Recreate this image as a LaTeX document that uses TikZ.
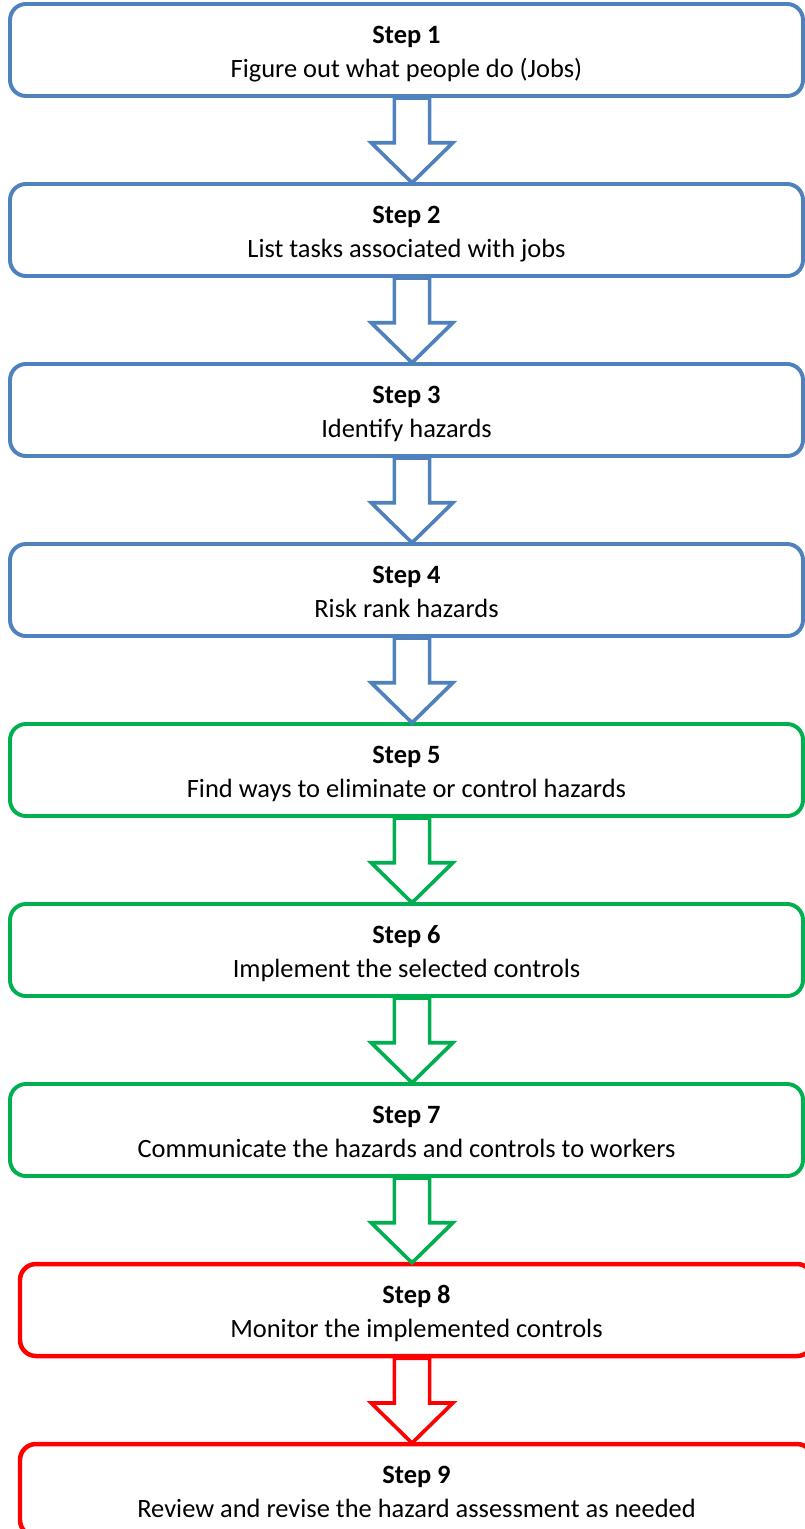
\documentclass[tikz,border=0pt]{standalone}
\usepackage{fontspec}
\setmainfont{Carlito}
\usetikzlibrary{calc}

\definecolor{stepblue}{HTML}{4F81BD}
\definecolor{stepgreen}{HTML}{00B050}
\definecolor{stepred}{HTML}{FF0000}

\begin{document}
\begin{tikzpicture}[
			stepbox/.style={
				draw, line width=2.8pt, rounded corners=0.4cm,
				minimum width=19.825cm, minimum height=2.3cm,
				align=center, text height=39pt, text depth=0pt,
				font=\fontsize{18.8}{23.8}\selectfont
			},
			blue box/.style={stepbox, draw=stepblue},
			green box/.style={stepbox, draw=stepgreen},
			red box/.style={stepbox, draw=stepred, line width=3.2pt},
			fat arrow/.style={line width=2.6pt, fill=white, line join=miter}
			]
			\useasboundingbox (0,0) rectangle (20.125,-38.225);
			\coordinate (ax) at (10.3,0);
			
			% the nine steps
			\node[blue box] (s1) at (10.1625,-1.25) {\textbf{Step 1}\\Figure out what people do (Jobs)};
			\node[blue box] (s2) at (10.1625,-5.75) {\textbf{Step 2}\\List tasks associated with jobs};
			\node[blue box] (s3) at (10.1625,-10.25) {\textbf{Step 3}\\Identify hazards};
			\node[blue box] (s4) at (10.1625,-14.75) {\textbf{Step 4}\\Risk rank hazards};
			\node[green box] (s5) at (10.1625,-19.25) {\textbf{Step 5}\\Find ways to eliminate or control hazards};
			\node[green box] (s6) at (10.1625,-23.75) {\textbf{Step 6}\\Implement the selected controls};
			\node[green box] (s7) at (10.1625,-28.25) {\textbf{Step 7}\\Communicate the hazards and controls to workers};
			\node[red box] (s8) at (10.4125,-32.75) {\textbf{Step 8}\\Monitor the implemented controls};
			\node[red box] (s9) at (10.4125,-37.25) {\textbf{Step 9}\\Review and revise the hazard assessment as needed};
			
			% block arrows between the steps
			\draw[fat arrow, draw=stepblue] (s1.south -| ax) ++(-0.44,0) -- ++(0,-1.12) -- ++(-0.58,0) -- ++(1.02,-1.0) -- ++(1.02,1.0) -- ++(-0.58,0) -- ++(0,1.12) -- cycle;
			\draw[fat arrow, draw=stepblue] (s2.south -| ax) ++(-0.44,0) -- ++(0,-1.12) -- ++(-0.58,0) -- ++(1.02,-1.0) -- ++(1.02,1.0) -- ++(-0.58,0) -- ++(0,1.12) -- cycle;
			\draw[fat arrow, draw=stepblue] (s3.south -| ax) ++(-0.44,0) -- ++(0,-1.12) -- ++(-0.58,0) -- ++(1.02,-1.0) -- ++(1.02,1.0) -- ++(-0.58,0) -- ++(0,1.12) -- cycle;
			\draw[fat arrow, draw=stepblue] (s4.south -| ax) ++(-0.44,0) -- ++(0,-1.12) -- ++(-0.58,0) -- ++(1.02,-1.0) -- ++(1.02,1.0) -- ++(-0.58,0) -- ++(0,1.12) -- cycle;
			\draw[fat arrow, draw=stepgreen] (s5.south -| ax) ++(-0.44,0) -- ++(0,-1.12) -- ++(-0.58,0) -- ++(1.02,-1.0) -- ++(1.02,1.0) -- ++(-0.58,0) -- ++(0,1.12) -- cycle;
			\draw[fat arrow, draw=stepgreen] (s6.south -| ax) ++(-0.44,0) -- ++(0,-1.12) -- ++(-0.58,0) -- ++(1.02,-1.0) -- ++(1.02,1.0) -- ++(-0.58,0) -- ++(0,1.12) -- cycle;
			\draw[fat arrow, draw=stepgreen] (s7.south -| ax) ++(-0.44,0) -- ++(0,-1.12) -- ++(-0.58,0) -- ++(1.02,-1.0) -- ++(1.02,1.0) -- ++(-0.58,0) -- ++(0,1.12) -- cycle;
			\draw[fat arrow, draw=stepred] (s8.south -| ax) ++(-0.44,0) -- ++(0,-1.12) -- ++(-0.58,0) -- ++(1.02,-1.0) -- ++(1.02,1.0) -- ++(-0.58,0) -- ++(0,1.12) -- cycle;
			
		\end{tikzpicture}
\end{document}
